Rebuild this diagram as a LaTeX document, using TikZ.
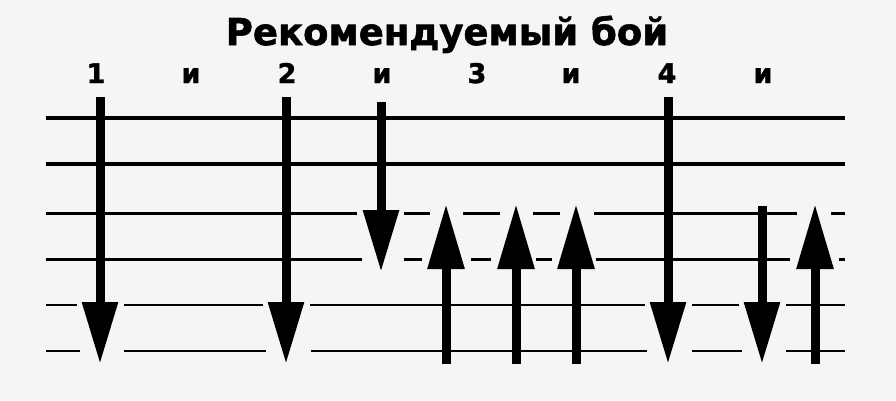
\documentclass[tikz,border=0pt]{standalone}
\usepackage{fontspec}
\setmainfont{DejaVu Sans}
\newfontfamily\heavyfont{DejaVu Sans Bold}[FakeBold=1.6]
\usetikzlibrary{arrows.meta}
\begin{document}
\begin{tikzpicture}[x=1pt,y=-1pt,
  strthick/.style={line width=4pt,black},
  strmid/.style={line width=3pt,black},
  strthin/.style={line width=2.4pt,black},
  downstrum/.style={line width=9pt,-{Triangle[width=34pt,length=62pt]}},
  upstrum/.style={line width=9pt,-{Triangle[width=35pt,length=65pt]}},
  beat/.style={font=\heavyfont\fontsize{27}{27}\selectfont,anchor=base,inner sep=0pt},
  titlefont/.style={font=\heavyfont\fontsize{37}{37}\selectfont,anchor=base,inner sep=0pt}]
\fill[black!4] (0,0) rectangle (896,400);
\useasboundingbox (0,0) rectangle (896,400);
% title
\node[titlefont] (title) at (447,45) {Рекомендуемый бой};
% beat labels
\node[beat] (b1) at (96,83) {1};
\node[beat] (b1a) at (191,83) {и};
\node[beat] (b2) at (287,83) {2};
\node[beat] (b2a) at (382,83) {и};
\node[beat] (b3) at (477,83) {3};
\node[beat] (b3a) at (571,83) {и};
\node[beat] (b4) at (667,83) {4};
\node[beat] (b4a) at (763,83) {и};
% strings
\draw[strthick] (46,118) -- (845,118);
\draw[strthick] (46,164) -- (845,164);
\draw[strmid] (46,213) -- (357,213) (404,213) -- (430,213) (463,213) -- (500,213)
  (533,213) -- (560,213) (594,213) -- (797,213) (831,213) -- (845,213);
\draw[strmid] (46,259) -- (362,259) (404,259) -- (422,259) (471,259) -- (491,259)
  (536,259) -- (552,259) (596,259) -- (790,259) (839,259) -- (845,259);
\draw[strthin] (46,305) -- (77,305) (124,305) -- (263,305) (310,305) -- (645,305)
  (692,305) -- (739,305) (786,305) -- (845,305);
\draw[strthin] (46,351) -- (80,351) (124,351) -- (266,351) (311,351) -- (647,351)
  (692,351) -- (742,351) (786,351) -- (845,351);
% strum coordinates
\coordinate (d1s) at (100,97);  \coordinate (d1e) at (100,364);
\coordinate (d2s) at (286,97);  \coordinate (d2e) at (286,364);
\coordinate (d3s) at (381,102); \coordinate (d3e) at (381,272);
\coordinate (u1s) at (446,364); \coordinate (u1e) at (446,204);
\coordinate (u2s) at (516,364); \coordinate (u2e) at (516,204);
\coordinate (u3s) at (576,364); \coordinate (u3e) at (576,204);
\coordinate (d4s) at (668,97);  \coordinate (d4e) at (668,364);
\coordinate (d5s) at (762,206); \coordinate (d5e) at (762,364);
\coordinate (u4s) at (815,364); \coordinate (u4e) at (815,204);
% strums
\draw[downstrum] (d1s) -- (d1e);
\draw[downstrum] (d2s) -- (d2e);
\draw[downstrum] (d3s) -- (d3e);
\draw[upstrum] (u1s) -- (u1e);
\draw[upstrum] (u2s) -- (u2e);
\draw[upstrum] (u3s) -- (u3e);
\draw[downstrum] (d4s) -- (d4e);
\draw[downstrum] (d5s) -- (d5e);
\draw[upstrum] (u4s) -- (u4e);
\end{tikzpicture}
\end{document}
